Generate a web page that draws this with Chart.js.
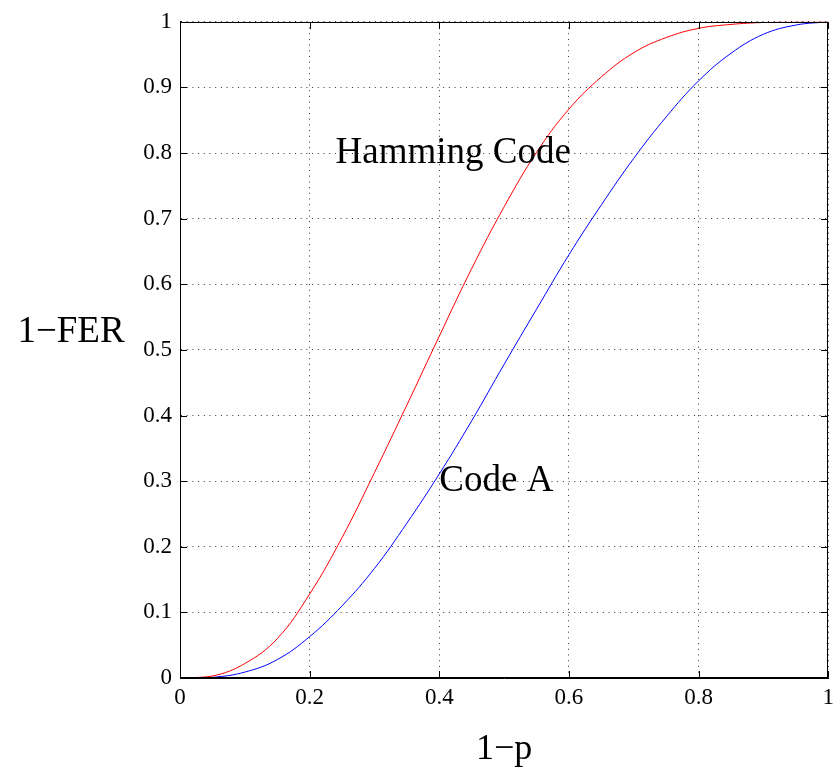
<!DOCTYPE html>
<html>
<head>
<meta charset="utf-8">
<title>1-FER vs 1-p</title>
<script src="https://cdn.jsdelivr.net/npm/chart.js@4.4.1/dist/chart.umd.min.js"></script>
<style>
  html, body { margin: 0; padding: 0; background: #ffffff; }
  #wrap { width: 840px; height: 768px; }
</style>
</head>
<body>
<div id="wrap"><canvas id="chart" width="840" height="768"></canvas></div>
<script>
// Probability that a bit is received correctly (1 - p)
const oneMinusP = [0, 0.05, 0.10, 0.15, 0.20, 0.25, 0.30, 0.35, 0.40, 0.45, 0.50,
                   0.55, 0.60, 0.65, 0.70, 0.75, 0.80, 0.85, 0.90, 0.95, 1.00];

// Frame success rate (1 - FER) for each code
const hammingCode = [0, 0.003, 0.022, 0.060, 0.128, 0.214, 0.313, 0.416, 0.521, 0.624, 0.718,
                     0.801, 0.867, 0.916, 0.953, 0.976, 0.990, 0.996, 0.999, 1.000, 1.000];
const codeA       = [0, 0.001, 0.009, 0.028, 0.063, 0.110, 0.167, 0.236, 0.311, 0.392, 0.478,
                     0.562, 0.645, 0.721, 0.792, 0.855, 0.910, 0.952, 0.981, 0.995, 1.000];

// Axis ticks
const xTicks = [0, 0.2, 0.4, 0.6, 0.8, 1];
const yTicks = [0, 0.1, 0.2, 0.3, 0.4, 0.5, 0.6, 0.7, 0.8, 0.9, 1];

// Curve names written inside the axes, anchored at data coordinates
const curveNotes = [
  { text: 'Hamming Code', x: 0.24, y: 0.8 },
  { text: 'Code A',       x: 0.40, y: 0.3 }
];

const SERIF = '"Liberation Serif", "Times New Roman", Times, serif';

const toPoints = (ys) => oneMinusP.map((x, i) => ({ x: x, y: ys[i] }));

// Box around the axes, inward tick marks, horizontal y label and curve names
const axesDecor = {
  id: 'axesDecor',
  afterDatasetsDraw(chart) {
    const { ctx, chartArea: a, scales } = chart;
    const xs = scales.x, ys = scales.y;
    const L = Math.round(a.left) + 0.5, R = Math.round(a.right) - 0.5;
    const T = Math.round(a.top) + 0.5, B = Math.round(a.bottom) - 0.5;
    const tick = 6.5;
    ctx.save();
    ctx.strokeStyle = '#000';
    ctx.lineWidth = 1;
    ctx.setLineDash([]);
    ctx.beginPath();
    xTicks.forEach(v => {
      const px = Math.round(xs.getPixelForValue(v)) + 0.5;
      ctx.moveTo(px, B); ctx.lineTo(px, B - tick);
      ctx.moveTo(px, T); ctx.lineTo(px, T + tick);
    });
    yTicks.forEach(v => {
      const py = Math.round(ys.getPixelForValue(v)) + 0.5;
      ctx.moveTo(L, py); ctx.lineTo(L + tick, py);
      ctx.moveTo(R, py); ctx.lineTo(R - tick, py);
    });
    ctx.stroke();
    ctx.strokeRect(L, T, R - L, B - T);

    ctx.fillStyle = '#000';
    ctx.font = '37px ' + SERIF;
    ctx.textBaseline = 'middle';
    ctx.textAlign = 'left';
    curveNotes.forEach(n => {
      ctx.fillText(n.text, xs.getPixelForValue(n.x), ys.getPixelForValue(n.y));
    });

    ctx.textAlign = 'center';
    ctx.fillText('1\u2212FER', a.left - 109, ys.getPixelForValue(0.527));
    ctx.restore();
  }
};

new Chart(document.getElementById('chart'), {
  type: 'line',
  data: {
    datasets: [
      {
        label: 'Hamming Code',
        data: toPoints(hammingCode),
        borderColor: '#ff0000',
        borderWidth: 1,
        pointRadius: 0,
        fill: false,
        tension: 0.4
      },
      {
        label: 'Code A',
        data: toPoints(codeA),
        borderColor: '#0000ff',
        borderWidth: 1,
        pointRadius: 0,
        fill: false,
        tension: 0.4
      }
    ]
  },
  options: {
    responsive: false,
    animation: false,
    devicePixelRatio: 1,
    layout: { padding: { top: 21, right: 4, left: 0, bottom: 0 } },
    plugins: {
      legend: { display: false },
      tooltip: { enabled: false }
    },
    scales: {
      x: {
        type: 'linear',
        min: 0,
        max: 1,
        afterBuildTicks: (s) => { s.ticks = xTicks.map(v => ({ value: v })); },
        afterFit: (s) => { s.height = 90; },
        ticks: {
          padding: 6,
          color: '#000',
          font: { family: SERIF, size: 23, lineHeight: 1.2 },
          callback: (v) => String(v),
          maxRotation: 0,
          autoSkip: false
        },
        grid: { color: 'rgba(0,0,0,0.8)', lineWidth: 1, drawTicks: false },
        border: { display: true, color: '#000', width: 1, dash: [1, 4.7] },
        title: {
          display: true,
          text: '1\u2212p',
          color: '#000',
          padding: 0,
          font: { family: SERIF, size: 36, lineHeight: 1 }
        }
      },
      y: {
        type: 'linear',
        min: 0,
        max: 1,
        afterBuildTicks: (s) => { s.ticks = yTicks.map(v => ({ value: v })); },
        afterFit: (s) => { s.width = 180; },
        ticks: {
          padding: 8,
          color: '#000',
          font: { family: SERIF, size: 23, lineHeight: 1.2 },
          callback: (v) => String(v),
          autoSkip: false
        },
        grid: { color: 'rgba(0,0,0,0.8)', lineWidth: 1, drawTicks: false },
        border: { display: true, color: '#000', width: 1, dash: [1, 4.7] }
      }
    }
  },
  plugins: [axesDecor]
});
</script>
</body>
</html>
